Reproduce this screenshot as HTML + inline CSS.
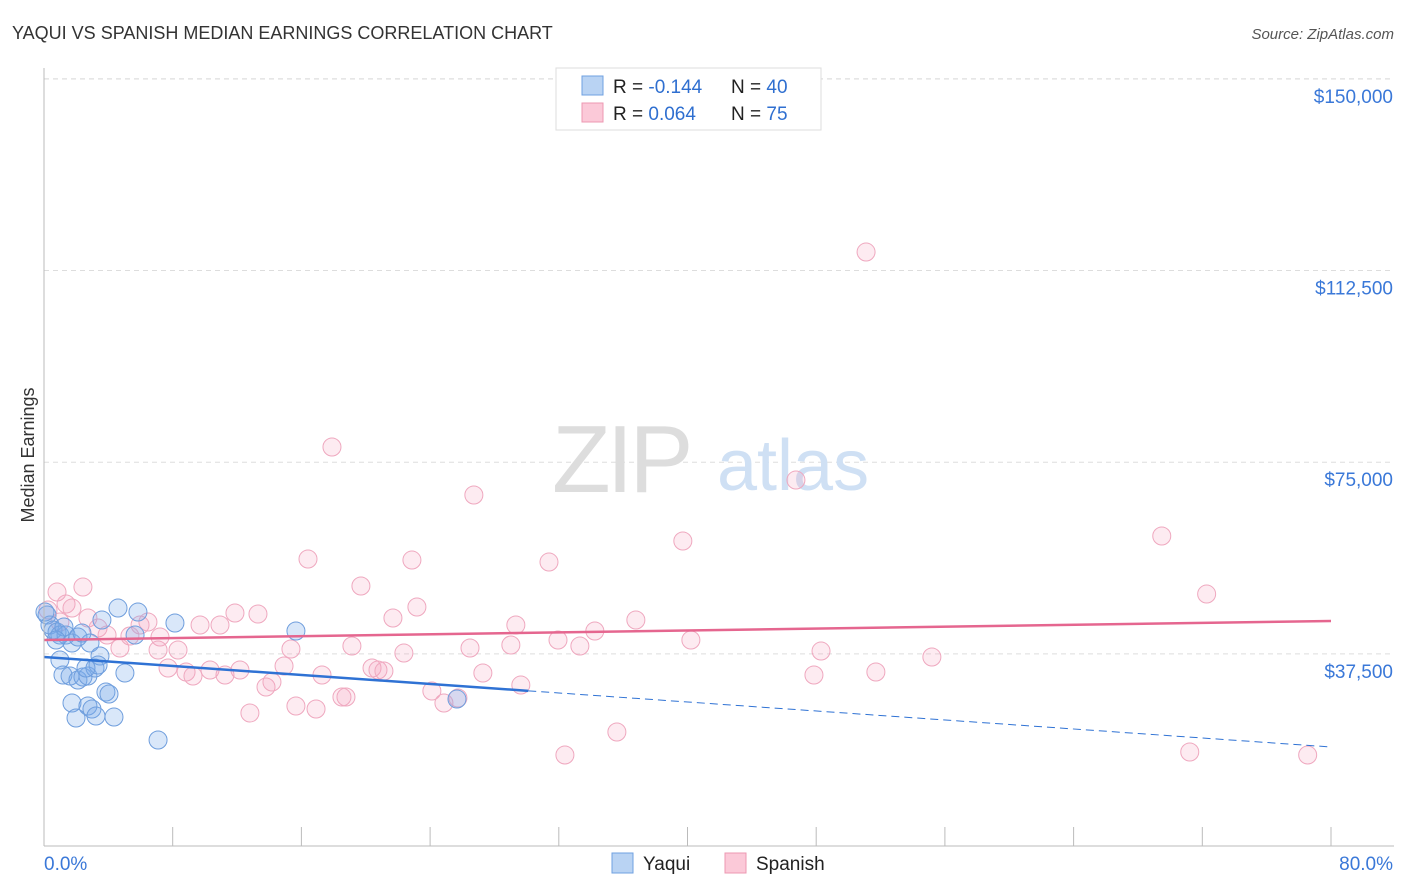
<!DOCTYPE html>
<html><head><meta charset="utf-8">
<style>
body{margin:0;background:#fff;font-family:"Liberation Sans",sans-serif;}
#wrap{position:relative;width:1406px;height:892px;overflow:hidden;}
svg text{font-family:"Liberation Sans",sans-serif;}
</style></head>
<body>
<div id="wrap">
<svg id="chart" width="1406" height="892">
<text x="12" y="39" font-size="18" fill="#333">YAQUI VS SPANISH MEDIAN EARNINGS CORRELATION CHART</text>
<text x="1394" y="39" font-size="15" fill="#555" font-style="italic" text-anchor="end">Source: ZipAtlas.com</text>
<text x="34" y="455" font-size="18" fill="#333" text-anchor="middle" transform="rotate(-90 34 455)">Median Earnings</text>
<g id="grid"></g>
<g><text x="552" y="492" font-size="96" fill="#ddd" font-family="Liberation Serif" letter-spacing="-4">ZIP</text><text x="717" y="490" font-size="72" fill="#cfe0f4">atlas</text></g>
<g id="marks"></g>
<g id="axes"></g>
<g>
<rect x="556" y="68" width="265" height="62" fill="#fff" stroke="#ddd"/>
<rect x="582" y="76" width="21" height="19" fill="#b9d3f3" stroke="#6fa0e0"/>
<rect x="582" y="103" width="21" height="19" fill="#fbc9d8" stroke="#ec98b2"/>
<text x="613" y="93" font-size="19" fill="#222">R = <tspan fill="#2f6fd0">-0.144</tspan></text>
<text x="731" y="93" font-size="19" fill="#222">N = <tspan fill="#2f6fd0">40</tspan></text>
<text x="613" y="120" font-size="19" fill="#222">R = <tspan fill="#2f6fd0"> 0.064</tspan></text>
<text x="731" y="120" font-size="19" fill="#222">N = <tspan fill="#2f6fd0"> 75</tspan></text>
</g>
<g>
<rect x="612" y="853" width="21" height="20" fill="#b9d3f3" stroke="#6fa0e0"/>
<text x="643" y="870" font-size="19" fill="#222">Yaqui</text>
<rect x="725" y="853" width="21" height="20" fill="#fbc9d8" stroke="#ec98b2"/>
<text x="756" y="870" font-size="19" fill="#222">Spanish</text>
</g>
</svg>
</div>
<script>
const yTicks=[37500,75000,112500,150000];
const yTickLabels=["$37,500","$75,000","$112,500","$150,000"];
const xTickLabels=["0.0%","80.0%"];
const yaquiX=[0.19,0.37,0.56,0.81,0.99,1.37,1.74,2.11,2.86,3.48,0.99,1.18,1.62,2.11,2.42,2.73,3.17,3.36,4.60,5.84,8.14,5.66,3.85,4.04,5.03,1.74,2.73,2.98,1.99,3.23,4.35,7.09,15.66,25.67,1.24,0.75,2.36,2.61,3.60,0.06];
const yaquiY=[45100,43150,42170,41780,41190,41190,39630,40800,39630,37090,36300,33370,33170,32390,32980,33170,34740,35330,46470,45690,43540,41190,30040,29650,33760,27890,27310,26720,24960,25350,25150,20660,41980,28670,42760,40220,41580,34740,44130,45690];
const spanishX=[0.81,0.25,0.99,1.37,2.42,1.74,2.73,3.36,3.92,4.72,5.34,5.97,6.46,7.21,7.09,8.33,7.71,8.83,9.26,9.70,10.32,10.94,11.25,11.87,12.18,12.80,13.30,13.80,14.17,14.92,15.35,15.66,16.41,16.91,17.28,17.90,18.52,18.77,19.14,19.70,20.39,20.76,21.13,21.69,22.37,22.87,23.18,24.11,24.86,25.73,26.48,26.72,27.28,29.02,29.33,29.64,31.39,31.95,32.38,33.31,34.24,35.61,36.79,39.71,40.21,46.74,47.86,48.30,51.10,51.71,55.19,69.48,71.22,72.27,78.55];
const spanishY=[49600,46080,43740,47260,50580,46470,44520,42560,41190,38650,41000,43150,43740,40800,38260,38260,34740,33960,33170,43150,34350,43150,33370,45500,34350,25940,45300,31020,32000,35130,38460,27310,56060,26720,33370,77970,29070,29070,39040,50780,34740,34350,34150,44520,37670,55860,46670,30240,27890,28870,38650,68580,33760,39240,43150,31410,55470,40220,17720,39040,41980,22220,44130,59580,40220,71510,33370,38060,116110,33960,36890,60560,18310,49210,17720];
const yaquiTrend=[36900,19290];   // values at x=0 and x=80
const spanishTrend=[40220,43930];
const yaquiSolidEnd=30.1;

const X0=44,X1=1331,Y0=845.6,PXPER=191.7/37500;
const sx=v=>X0+(v/80)*(X1-X0);
const sy=v=>Y0-v*PXPER;
const NS="http://www.w3.org/2000/svg";
function mk(tag,attrs,parent){const e=document.createElementNS(NS,tag);for(const k in attrs)e.setAttribute(k,attrs[k]);parent.appendChild(e);return e;}
const grid=document.getElementById('grid'),marks=document.getElementById('marks'),axes=document.getElementById('axes');
yTicks.forEach((t,i)=>{
  const l=mk('line',{x1:44,x2:1394,y1:sy(t),y2:sy(t),stroke:'#ddd','stroke-dasharray':'5,4'},grid);
  
  
  const tx=mk('text',{x:1393,y:sy(t)+24,'font-size':19,fill:'#3a78d8','text-anchor':'end'},axes);
  tx.textContent=yTickLabels[i];
  
  
});
mk('line',{x1:44,x2:1394,y1:79,y2:79,stroke:'#ddd','stroke-dasharray':'5,4'},grid);
mk('line',{x1:44,x2:44,y1:68,y2:846,stroke:'#bbb'},axes);
mk('line',{x1:44,x2:1394,y1:846,y2:846,stroke:'#bbb'},axes);
for(let i=0;i<=10;i++){mk('line',{x1:sx(i*8),x2:sx(i*8),y1:827,y2:846,stroke:'#bbb'},axes);}
const xl0=mk('text',{x:44,y:870,'font-size':19,fill:'#3a78d8'},axes);xl0.textContent=xTickLabels[0];


const xl1=mk('text',{x:1393,y:870,'font-size':19,fill:'#3a78d8','text-anchor':'end'},axes);xl1.textContent=xTickLabels[1];


spanishX.forEach((x,i)=>{
  const c=mk('circle',{cx:sx(x),cy:sy(spanishY[i]),r:9,fill:'rgba(244,165,190,0.22)',stroke:'#efa8bf','stroke-width':1},marks);
  
  
});
yaquiX.forEach((x,i)=>{
  const c=mk('circle',{cx:sx(x),cy:sy(yaquiY[i]),r:9,fill:'rgba(120,170,232,0.28)',stroke:'#6f9edd','stroke-width':1},marks);
  
  
});
const ty=(tr,x)=>tr[0]+(tr[1]-tr[0])*x/80;
const pl=mk('line',{x1:sx(0),y1:sy(ty(spanishTrend,0)),x2:sx(80),y2:sy(ty(spanishTrend,80)),stroke:'#e5668f','stroke-width':2.5},marks);


const bl=mk('line',{x1:sx(0),y1:sy(ty(yaquiTrend,0)),x2:sx(yaquiSolidEnd),y2:sy(ty(yaquiTrend,yaquiSolidEnd)),stroke:'#2f72d4','stroke-width':2.5},marks);


const bd=mk('line',{x1:sx(yaquiSolidEnd),y1:sy(ty(yaquiTrend,yaquiSolidEnd)),x2:sx(80),y2:sy(ty(yaquiTrend,80)),stroke:'#2f72d4','stroke-width':1,'stroke-dasharray':'8,5'},marks);


</script>
</body></html>
